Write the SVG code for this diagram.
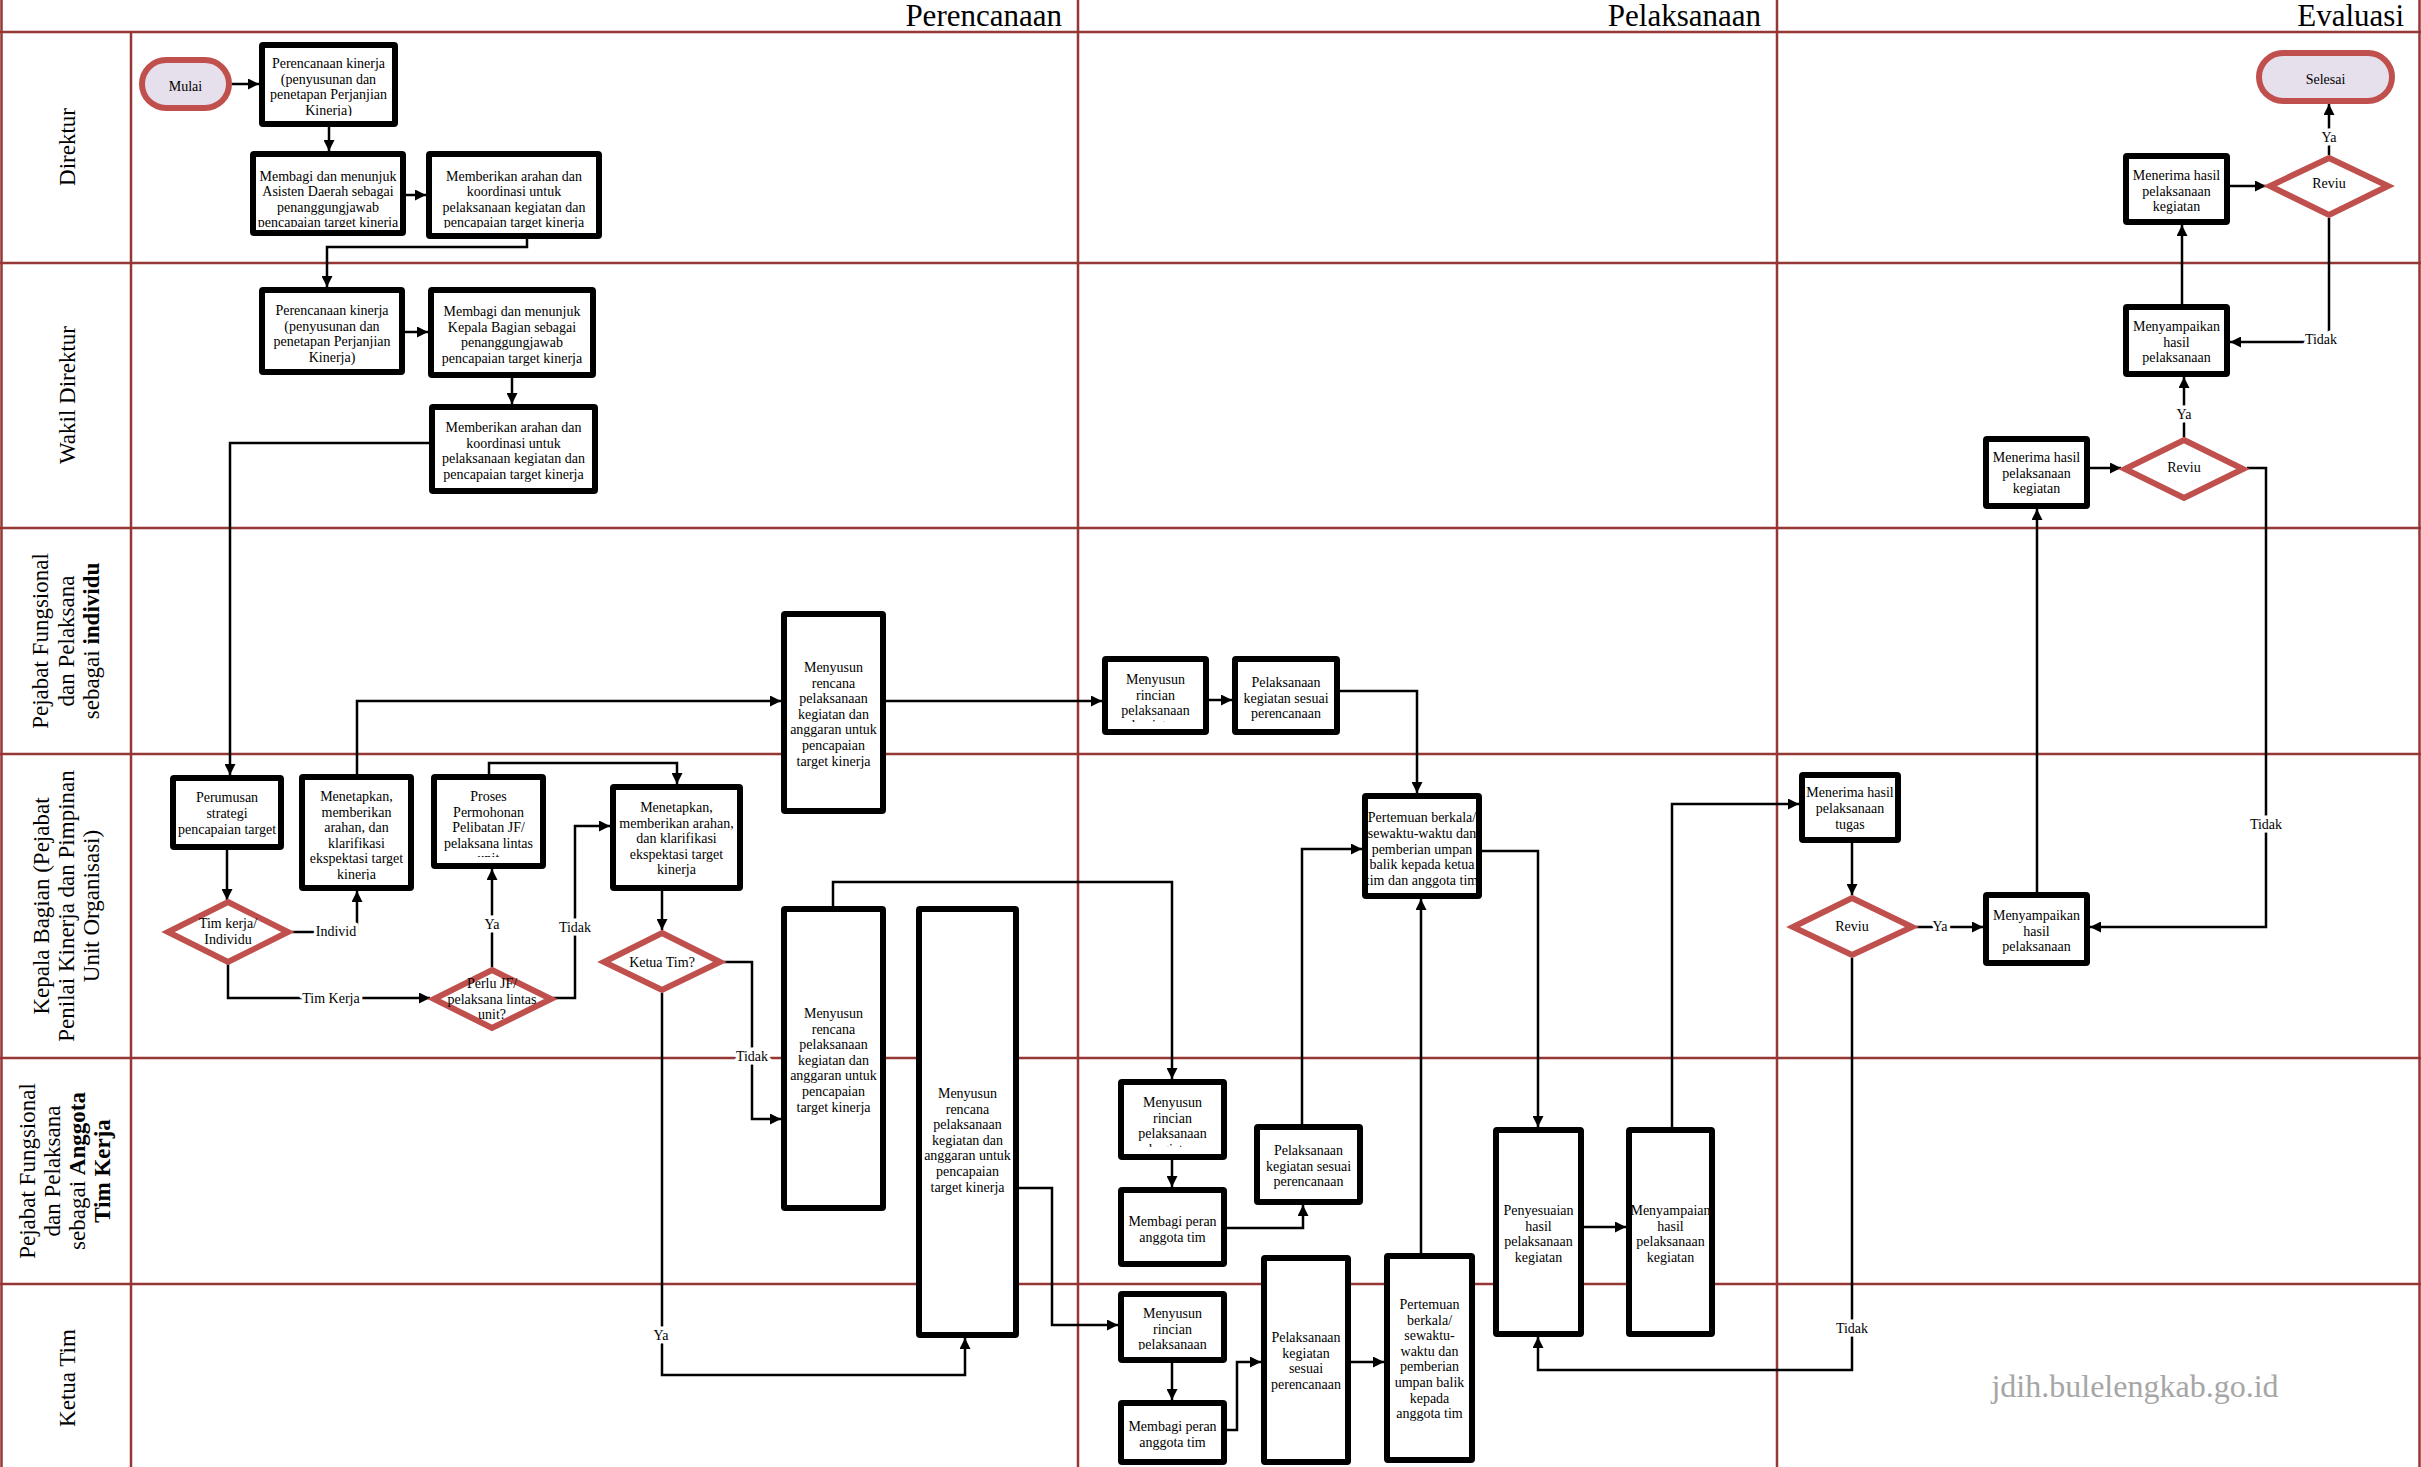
<svg xmlns="http://www.w3.org/2000/svg" width="2421" height="1467" viewBox="0 0 2421 1467">
  <defs>
    <style>
      text{font-family:"Liberation Serif","Times New Roman",serif;fill:#000}
      .lane{fill:none;stroke:#953735;stroke-width:2.5}
      .box{fill:#fff;stroke:#000;stroke-width:6}
      .dec{fill:#fff;stroke:#C0504D;stroke-width:6}
      .term{fill:#E6E0EC;stroke:#C0504D;stroke-width:6}
      .cn{fill:none;stroke:#000;stroke-width:2.5;marker-end:url(#ah)}
      .t{font-size:14px;text-anchor:middle}
      .cl{font-size:14px;text-anchor:middle;stroke:#fff;stroke-width:7;paint-order:stroke;stroke-linejoin:round}
      .ph{font-size:31px;text-anchor:end}
      .ln{font-size:23px;text-anchor:middle}
      .wm{font-size:32px;text-anchor:middle;fill:#A6A6A6}
    </style>
    <marker id="ah" markerUnits="userSpaceOnUse" viewBox="0 0 12 12" markerWidth="12" markerHeight="11" refX="12" refY="6" orient="auto">
      <path d="M0,0 L12,6 L0,12 z" fill="#000"/>
    </marker>
    <clipPath id="k-b2"><rect x="259" y="42" width="139" height="74"/></clipPath>
    <clipPath id="k-b3"><rect x="250" y="151" width="156" height="76"/></clipPath>
    <clipPath id="k-b4"><rect x="426" y="151" width="176" height="77"/></clipPath>
    <clipPath id="k-b9"><rect x="1102" y="656" width="107" height="66"/></clipPath>
    <clipPath id="k-b13"><rect x="299" y="774" width="115" height="106"/></clipPath>
    <clipPath id="k-b14"><rect x="431" y="774" width="115" height="83"/></clipPath>
    <clipPath id="k-b24"><rect x="1118" y="1079" width="109" height="68"/></clipPath>
    <clipPath id="k-b29"><rect x="1118" y="1291" width="109" height="59"/></clipPath>
  </defs>

  <rect width="2421" height="1467" fill="#fff"/>

  <!-- swimlane grid -->
  <g id="lanes">
    <path class="lane" d="M0,32 H2421 M0,263 H2421 M0,528 H2421 M0,754 H2421 M0,1058 H2421 M0,1284 H2421"/>
    <path class="lane" d="M1.5,0 V1467 M131,32 V1467 M1078,0 V1467 M1777,0 V1467 M2419.5,0 V1467"/>
  </g>

  <!-- phase headers -->
  <g id="phases">
    <text class="ph" x="1062" y="26">Perencanaan</text>
    <text class="ph" x="1761" y="26">Pelaksanaan</text>
    <text class="ph" x="2404" y="26">Evaluasi</text>
  </g>

  <!-- lane titles -->
  <g id="lane-titles">
    <text class="ln" transform="translate(75,147) rotate(-90)">Direktur</text>
    <text class="ln" transform="translate(75,395) rotate(-90)">Wakil Direktur</text>
    <text class="ln" transform="translate(48,641) rotate(-90)"><tspan x="0" y="0">Pejabat Fungsional</tspan><tspan x="0" y="25.5">dan Pelaksana</tspan><tspan x="0" y="51">sebagai <tspan font-weight="bold">individu</tspan></tspan></text>
    <text class="ln" transform="translate(49,906) rotate(-90)"><tspan x="0" y="0">Kepala Bagian (Pejabat</tspan><tspan x="0" y="25">Penilai Kinerja dan Pimpinan</tspan><tspan x="0" y="50">Unit Organisasi)</tspan></text>
    <text class="ln" transform="translate(35,1171) rotate(-90)"><tspan x="0" y="0">Pejabat Fungsional</tspan><tspan x="0" y="25">dan Pelaksana</tspan><tspan x="0" y="50">sebagai <tspan font-weight="bold">Anggota</tspan></tspan><tspan x="0" y="75" font-weight="bold">Tim Kerja</tspan></text>
    <text class="ln" transform="translate(75,1378) rotate(-90)">Ketua Tim</text>
  </g>

  <!-- flow connectors -->
  <g id="connectors">
    <path class="cn" d="M232,84 H259"/>
    <path class="cn" d="M329,127 V151"/>
    <path class="cn" d="M406,195 H426"/>
    <path class="cn" d="M527,239 V247 H327 V287"/>
    <path class="cn" d="M405,332 H428"/>
    <path class="cn" d="M512,378 V404"/>
    <path class="cn" d="M429,443 H230 V775"/>
    <path class="cn" d="M227,850 V900"/>
    <path class="cn" d="M292,932 H357 V891"/>
    <path class="cn" d="M228,964 V998 H430"/>
    <path class="cn" d="M492,967 V869"/>
    <path class="cn" d="M553,998 H575 V826 H610"/>
    <path class="cn" d="M489,774 V763 H677 V784"/>
    <path class="cn" d="M662,891 V930"/>
    <path class="cn" d="M724,962 H752 V1119 H781"/>
    <path class="cn" d="M662,993 V1375 H965 V1338"/>
    <path class="cn" d="M357,774 V701 H781"/>
    <path class="cn" d="M833,906 V882 H1172 V1079"/>
    <path class="cn" d="M1019,1188 H1052 V1325 H1118"/>
    <path class="cn" d="M886,701 H1102"/>
    <path class="cn" d="M1209,700 H1232"/>
    <path class="cn" d="M1340,691 H1417 V793"/>
    <path class="cn" d="M1172,1160 V1187"/>
    <path class="cn" d="M1227,1228 H1303 V1205"/>
    <path class="cn" d="M1302,1124 V849 H1362"/>
    <path class="cn" d="M1172,1363 V1400"/>
    <path class="cn" d="M1227,1430 H1237 V1362 H1261"/>
    <path class="cn" d="M1351,1362 H1384"/>
    <path class="cn" d="M1421,1253 V899"/>
    <path class="cn" d="M1482,851 H1538 V1127"/>
    <path class="cn" d="M1584,1227 H1626"/>
    <path class="cn" d="M1672,1127 V804 H1799"/>
    <path class="cn" d="M1852,843 V895"/>
    <path class="cn" d="M1916,927 H1983"/>
    <path class="cn" d="M1852,958 V1370 H1538 V1337"/>
    <path class="cn" d="M2037,892 V509"/>
    <path class="cn" d="M2090,468 H2121"/>
    <path class="cn" d="M2247,468 H2266 V927 H2090"/>
    <path class="cn" d="M2184,437 V377"/>
    <path class="cn" d="M2182,304 V225"/>
    <path class="cn" d="M2230,186 H2266"/>
    <path class="cn" d="M2329,218 V342 H2230"/>
    <path class="cn" d="M2329,155 V104"/>

    <!-- branch labels -->
    <text class="cl" x="336" y="936">Individ</text>
    <text class="cl" x="331" y="1003">Tim Kerja</text>
    <text class="cl" x="492" y="929">Ya</text>
    <text class="cl" x="575" y="932">Tidak</text>
    <text class="cl" x="752" y="1061">Tidak</text>
    <text class="cl" x="661" y="1340">Ya</text>
    <text class="cl" x="1940" y="931">Ya</text>
    <text class="cl" x="1852" y="1333">Tidak</text>
    <text class="cl" x="2266" y="829">Tidak</text>
    <text class="cl" x="2184" y="419">Ya</text>
    <text class="cl" x="2321" y="344">Tidak</text>
    <text class="cl" x="2329" y="142">Ya</text>
  </g>

  <!-- process nodes -->
  <g id="nodes">
    <g id="n-mulai">
      <rect class="term" x="142" y="60" width="87" height="48" rx="24"/>
      <text class="t" x="185.5" y="91" font-size="13">Mulai</text>
    </g>
    <g id="n-dir-perencanaan">
      <rect class="box" x="262" y="45" width="133" height="79" rx="1"/>
      <text class="t" clip-path="url(#k-b2)"><tspan x="328.5" y="68">Perencanaan kinerja</tspan><tspan x="328.5" y="83.6">(penyusunan dan</tspan><tspan x="328.5" y="99.2">penetapan Perjanjian</tspan><tspan x="328.5" y="114.8">Kinerja)</tspan></text>
    </g>
    <g id="n-dir-membagi">
      <rect class="box" x="253" y="154" width="150" height="79" rx="1"/>
      <text class="t" clip-path="url(#k-b3)"><tspan x="328" y="180.5">Membagi dan menunjuk</tspan><tspan x="328" y="196">Asisten Daerah sebagai</tspan><tspan x="328" y="211.5">penanggungjawab</tspan><tspan x="328" y="227">pencapaian target kinerja</tspan></text>
    </g>
    <g id="n-dir-arahan">
      <rect class="box" x="429" y="154" width="170" height="82" rx="1"/>
      <text class="t" clip-path="url(#k-b4)"><tspan x="514" y="180.5">Memberikan arahan dan</tspan><tspan x="514" y="196">koordinasi untuk</tspan><tspan x="514" y="211.5">pelaksanaan kegiatan dan</tspan><tspan x="514" y="227">pencapaian target kinerja</tspan></text>
    </g>
    <g id="n-wadir-perencanaan">
      <rect class="box" x="262" y="290" width="140" height="82" rx="1"/>
      <text class="t"><tspan x="332" y="315">Perencanaan kinerja</tspan><tspan x="332" y="330.5">(penyusunan dan</tspan><tspan x="332" y="346">penetapan Perjanjian</tspan><tspan x="332" y="361.5">Kinerja)</tspan></text>
    </g>
    <g id="n-wadir-membagi">
      <rect class="box" x="431" y="290" width="162" height="85" rx="1"/>
      <text class="t"><tspan x="512" y="316">Membagi dan menunjuk</tspan><tspan x="512" y="331.5">Kepala Bagian sebagai</tspan><tspan x="512" y="347">penanggungjawab</tspan><tspan x="512" y="362.5">pencapaian target kinerja</tspan></text>
    </g>
    <g id="n-wadir-arahan">
      <rect class="box" x="432" y="407" width="163" height="84" rx="1"/>
      <text class="t"><tspan x="513.5" y="432">Memberikan arahan dan</tspan><tspan x="513.5" y="447.5">koordinasi untuk</tspan><tspan x="513.5" y="463">pelaksanaan kegiatan dan</tspan><tspan x="513.5" y="478.5">pencapaian target kinerja</tspan></text>
    </g>
    <g id="n-ind-rencana">
      <rect class="box" x="784" y="614" width="99" height="197" rx="1"/>
      <text class="t"><tspan x="833.5" y="672">Menyusun</tspan><tspan x="833.5" y="687.6">rencana</tspan><tspan x="833.5" y="703.2">pelaksanaan</tspan><tspan x="833.5" y="718.8">kegiatan dan</tspan><tspan x="833.5" y="734.4">anggaran untuk</tspan><tspan x="833.5" y="750">pencapaian</tspan><tspan x="833.5" y="765.6">target kinerja</tspan></text>
    </g>
    <g id="n-ind-rincian">
      <rect class="box" x="1105" y="659" width="101" height="73" rx="1"/>
      <text class="t" clip-path="url(#k-b9)"><tspan x="1155.5" y="684">Menyusun</tspan><tspan x="1155.5" y="699.5">rincian</tspan><tspan x="1155.5" y="715">pelaksanaan</tspan><tspan x="1155.5" y="730">kegiatan</tspan></text>
    </g>
    <g id="n-ind-pelaksanaan">
      <rect class="box" x="1235" y="659" width="102" height="73" rx="1"/>
      <text class="t"><tspan x="1286" y="687">Pelaksanaan</tspan><tspan x="1286" y="702.5">kegiatan sesuai</tspan><tspan x="1286" y="718">perencanaan</tspan></text>
    </g>
    <g id="n-kb-perumusan">
      <rect class="box" x="173" y="778" width="108" height="69" rx="1"/>
      <text class="t"><tspan x="227" y="802">Perumusan</tspan><tspan x="227" y="818">strategi</tspan><tspan x="227" y="834">pencapaian target</tspan></text>
    </g>
    <g id="n-kb-timkerja">
      <polygon class="dec" points="228,902 288,932 228,962 168,932"/>
      <text class="t"><tspan x="228" y="928">Tim kerja/</tspan><tspan x="228" y="944">Individu</tspan></text>
    </g>
    <g id="n-kb-menetapkan1">
      <rect class="box" x="302" y="777" width="109" height="111" rx="1"/>
      <text class="t" clip-path="url(#k-b13)"><tspan x="356.5" y="801">Menetapkan,</tspan><tspan x="356.5" y="816.5">memberikan</tspan><tspan x="356.5" y="832">arahan, dan</tspan><tspan x="356.5" y="847.5">klarifikasi</tspan><tspan x="356.5" y="863">ekspektasi target</tspan><tspan x="356.5" y="878.5">kinerja</tspan></text>
    </g>
    <g id="n-kb-proses">
      <rect class="box" x="434" y="777" width="109" height="89" rx="1"/>
      <text class="t" clip-path="url(#k-b14)"><tspan x="488.5" y="801">Proses</tspan><tspan x="488.5" y="816.5">Permohonan</tspan><tspan x="488.5" y="832">Pelibatan JF/</tspan><tspan x="488.5" y="847.5">pelaksana lintas</tspan><tspan x="488.5" y="863">unit</tspan></text>
    </g>
    <g id="n-kb-perlujf">
      <polygon class="dec" points="492,970 551,999 492,1028 434,999"/>
      <text class="t"><tspan x="492" y="988">Perlu JF/</tspan><tspan x="492" y="1003.5">pelaksana lintas</tspan><tspan x="492" y="1019">unit?</tspan></text>
    </g>
    <g id="n-kb-menetapkan2">
      <rect class="box" x="613" y="787" width="127" height="101" rx="1"/>
      <text class="t"><tspan x="676.5" y="812">Menetapkan,</tspan><tspan x="676.5" y="827.5">memberikan arahan,</tspan><tspan x="676.5" y="843">dan klarifikasi</tspan><tspan x="676.5" y="858.5">ekspektasi target</tspan><tspan x="676.5" y="874">kinerja</tspan></text>
    </g>
    <g id="n-kb-ketuatim">
      <polygon class="dec" points="662,933 720,962 662,990 604,962"/>
      <text class="t" x="662" y="967">Ketua Tim?</text>
    </g>
    <g id="n-kb-rencana1">
      <rect class="box" x="784" y="909" width="99" height="299" rx="1"/>
      <text class="t"><tspan x="833.5" y="1018">Menyusun</tspan><tspan x="833.5" y="1033.6">rencana</tspan><tspan x="833.5" y="1049.2">pelaksanaan</tspan><tspan x="833.5" y="1064.8">kegiatan dan</tspan><tspan x="833.5" y="1080.4">anggaran untuk</tspan><tspan x="833.5" y="1096">pencapaian</tspan><tspan x="833.5" y="1111.6">target kinerja</tspan></text>
    </g>
    <g id="n-kb-rencana2">
      <rect class="box" x="919" y="909" width="97" height="426" rx="1"/>
      <text class="t"><tspan x="967.5" y="1098">Menyusun</tspan><tspan x="967.5" y="1113.6">rencana</tspan><tspan x="967.5" y="1129.2">pelaksanaan</tspan><tspan x="967.5" y="1144.8">kegiatan dan</tspan><tspan x="967.5" y="1160.4">anggaran untuk</tspan><tspan x="967.5" y="1176">pencapaian</tspan><tspan x="967.5" y="1191.6">target kinerja</tspan></text>
    </g>
    <g id="n-kb-pertemuan">
      <rect class="box" x="1365" y="796" width="114" height="100" rx="1"/>
      <text class="t"><tspan x="1422" y="822">Pertemuan berkala/</tspan><tspan x="1422" y="837.8">sewaktu-waktu dan</tspan><tspan x="1422" y="853.6">pemberian umpan</tspan><tspan x="1422" y="869.4">balik kepada ketua</tspan><tspan x="1422" y="885.2">tim dan anggota tim</tspan></text>
    </g>
    <g id="n-kb-menerima">
      <rect class="box" x="1802" y="775" width="96" height="65" rx="1"/>
      <text class="t"><tspan x="1850" y="797">Menerima hasil</tspan><tspan x="1850" y="813">pelaksanaan</tspan><tspan x="1850" y="829">tugas</tspan></text>
    </g>
    <g id="n-kb-reviu">
      <polygon class="dec" points="1852,898 1912,927 1852,955 1793,927"/>
      <text class="t" x="1852" y="931">Reviu</text>
    </g>
    <g id="n-kb-menyampaikan">
      <rect class="box" x="1986" y="895" width="101" height="68" rx="1"/>
      <text class="t"><tspan x="2036.5" y="920">Menyampaikan</tspan><tspan x="2036.5" y="935.5">hasil</tspan><tspan x="2036.5" y="951">pelaksanaan</tspan></text>
    </g>
    <g id="n-ang-rincian">
      <rect class="box" x="1121" y="1082" width="103" height="75" rx="1"/>
      <text class="t" clip-path="url(#k-b24)"><tspan x="1172.5" y="1107">Menyusun</tspan><tspan x="1172.5" y="1122.6">rincian</tspan><tspan x="1172.5" y="1138.2">pelaksanaan</tspan><tspan x="1172.5" y="1153.5">kegiatan</tspan></text>
    </g>
    <g id="n-ang-peran">
      <rect class="box" x="1121" y="1190" width="103" height="74" rx="1"/>
      <text class="t"><tspan x="1172.5" y="1226">Membagi peran</tspan><tspan x="1172.5" y="1241.6">anggota tim</tspan></text>
    </g>
    <g id="n-ang-pelaksanaan">
      <rect class="box" x="1257" y="1127" width="103" height="75" rx="1"/>
      <text class="t"><tspan x="1308.5" y="1155">Pelaksanaan</tspan><tspan x="1308.5" y="1170.6">kegiatan sesuai</tspan><tspan x="1308.5" y="1186.2">perencanaan</tspan></text>
    </g>
    <g id="n-ang-penyesuaian">
      <rect class="box" x="1496" y="1130" width="85" height="204" rx="1"/>
      <text class="t"><tspan x="1538.5" y="1215">Penyesuaian</tspan><tspan x="1538.5" y="1230.6">hasil</tspan><tspan x="1538.5" y="1246.2">pelaksanaan</tspan><tspan x="1538.5" y="1261.8">kegiatan</tspan></text>
    </g>
    <g id="n-ang-menyampaian">
      <rect class="box" x="1629" y="1130" width="83" height="204" rx="1"/>
      <text class="t"><tspan x="1670.5" y="1215">Menyampaian</tspan><tspan x="1670.5" y="1230.6">hasil</tspan><tspan x="1670.5" y="1246.2">pelaksanaan</tspan><tspan x="1670.5" y="1261.8">kegiatan</tspan></text>
    </g>
    <g id="n-kt-rincian">
      <rect class="box" x="1121" y="1294" width="103" height="66" rx="1"/>
      <text class="t" clip-path="url(#k-b29)"><tspan x="1172.5" y="1318">Menyusun</tspan><tspan x="1172.5" y="1333.6">rincian</tspan><tspan x="1172.5" y="1349.2">pelaksanaan</tspan></text>
    </g>
    <g id="n-kt-peran">
      <rect class="box" x="1121" y="1403" width="103" height="59" rx="1"/>
      <text class="t"><tspan x="1172.5" y="1431">Membagi peran</tspan><tspan x="1172.5" y="1446.6">anggota tim</tspan></text>
    </g>
    <g id="n-kt-pelaksanaan">
      <rect class="box" x="1264" y="1258" width="84" height="204" rx="1"/>
      <text class="t"><tspan x="1306" y="1342">Pelaksanaan</tspan><tspan x="1306" y="1357.6">kegiatan</tspan><tspan x="1306" y="1373.2">sesuai</tspan><tspan x="1306" y="1388.8">perencanaan</tspan></text>
    </g>
    <g id="n-kt-pertemuan">
      <rect class="box" x="1387" y="1256" width="85" height="204" rx="1"/>
      <text class="t"><tspan x="1429.5" y="1309">Pertemuan</tspan><tspan x="1429.5" y="1324.6">berkala/</tspan><tspan x="1429.5" y="1340.2">sewaktu-</tspan><tspan x="1429.5" y="1355.8">waktu dan</tspan><tspan x="1429.5" y="1371.4">pemberian</tspan><tspan x="1429.5" y="1387">umpan balik</tspan><tspan x="1429.5" y="1402.6">kepada</tspan><tspan x="1429.5" y="1418.2">anggota tim</tspan></text>
    </g>
    <g id="n-wadir-menerima">
      <rect class="box" x="1986" y="439" width="101" height="67" rx="1"/>
      <text class="t"><tspan x="2036.5" y="462">Menerima hasil</tspan><tspan x="2036.5" y="477.5">pelaksanaan</tspan><tspan x="2036.5" y="493">kegiatan</tspan></text>
    </g>
    <g id="n-wadir-reviu">
      <polygon class="dec" points="2184,440 2243,469 2184,498 2125,469"/>
      <text class="t" x="2184" y="472">Reviu</text>
    </g>
    <g id="n-wadir-menyampaikan">
      <rect class="box" x="2126" y="307" width="101" height="67" rx="1"/>
      <text class="t"><tspan x="2176.5" y="331">Menyampaikan</tspan><tspan x="2176.5" y="346.5">hasil</tspan><tspan x="2176.5" y="362">pelaksanaan</tspan></text>
    </g>
    <g id="n-dir-menerima">
      <rect class="box" x="2126" y="156" width="101" height="66" rx="1"/>
      <text class="t"><tspan x="2176.5" y="180">Menerima hasil</tspan><tspan x="2176.5" y="195.5">pelaksanaan</tspan><tspan x="2176.5" y="211">kegiatan</tspan></text>
    </g>
    <g id="n-dir-reviu">
      <polygon class="dec" points="2329,158 2388,186 2329,215 2270,186"/>
      <text class="t" x="2329" y="188">Reviu</text>
    </g>
    <g id="n-selesai">
      <rect class="term" x="2259" y="53" width="133" height="48" rx="24"/>
      <text class="t" x="2325.5" y="84">Selesai</text>
    </g>
  </g>

  <text class="wm" x="2135" y="1397">jdih.bulelengkab.go.id</text>
</svg>
